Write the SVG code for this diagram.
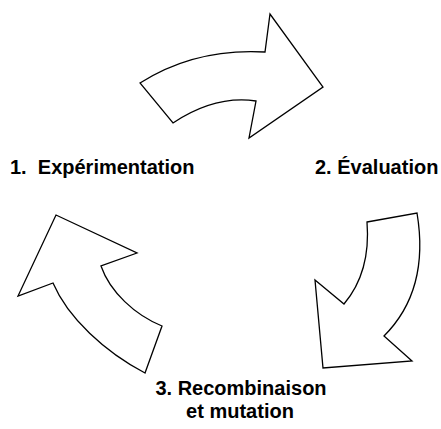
<svg xmlns="http://www.w3.org/2000/svg" width="441" height="429" viewBox="0 0 441 429">
<style>
.arrow{fill:#fff;stroke:#000;stroke-width:1.3;stroke-linejoin:miter}
.lbl{font-family:"Liberation Sans",Arial,sans-serif;font-weight:bold;font-size:20px;fill:#000;white-space:pre}
</style>
<rect width="441" height="429" fill="#fff"/>
<g id="connectors">
<path id="arrow-top" class="arrow" d="M140,83 Q195,48 265,52 L270,14 L323,87 L249,138 L256,101 Q215,95 173,123 Z"/>
<path id="arrow-right" class="arrow" d="M367,222 L417,213 C424,255 420,300 384,336 L412,361 L323,368 L315,280 L344,304 C360,285 370,260 367,222 Z"/>
<path id="arrow-left" class="arrow" d="M145,373 C105,352 68,318 53,283 L18,296 L56,215 L137,253 L101,266 C110,292 135,315 162,326 Z"/>
</g>
<g id="node-1"><text class="lbl" x="10" y="174" xml:space="preserve">1.  Expérimentation</text></g>
<g id="node-2"><text class="lbl" x="315" y="174">2. Évaluation</text></g>
<g id="node-3"><text class="lbl" x="241" y="395" text-anchor="middle">3. Recombinaison</text><text class="lbl" x="240" y="418" text-anchor="middle">et mutation</text></g>
</svg>
